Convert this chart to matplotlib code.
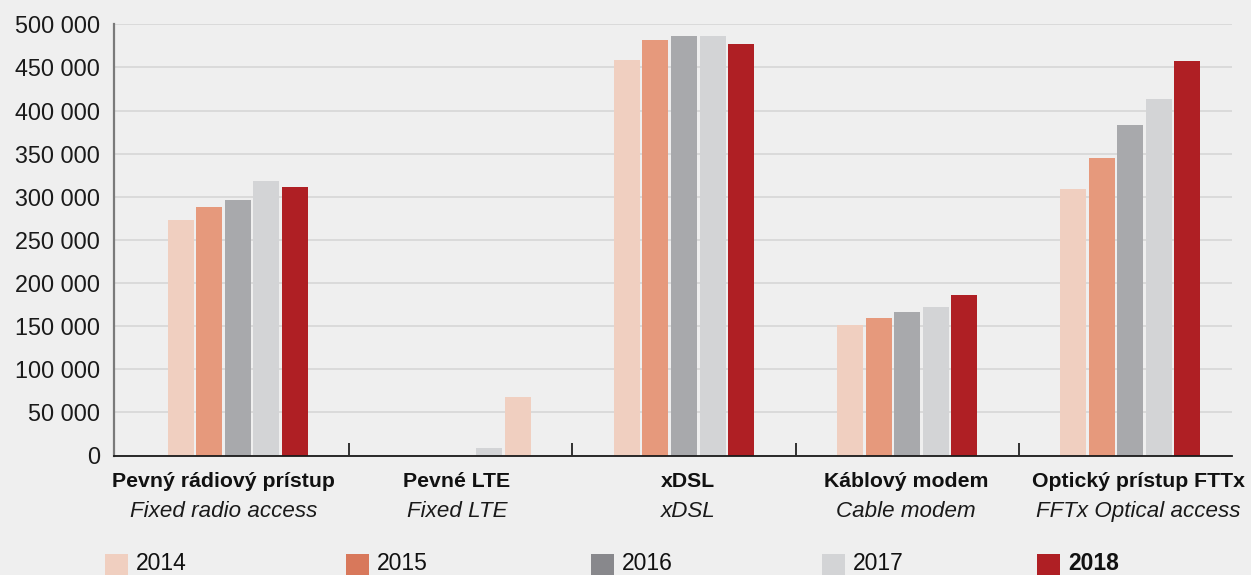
import matplotlib
matplotlib.use("Agg")
import matplotlib.pyplot as plt
import matplotlib.transforms as mtransforms
from matplotlib.patches import Rectangle
from matplotlib.ticker import FuncFormatter, FixedLocator
import numpy as np

# ---------------- data ----------------
categories_sk = ["Pevný rádiový prístup", "Pevné LTE", "xDSL", "Káblový modem", "Optický prístup FTTx"]
categories_en = ["Fixed radio access", "Fixed LTE", "xDSL", "Cable modem", "FFTx Optical access"]
years = ["2014", "2015", "2016", "2017", "2018"]
v2014 = [273000, 0, 459000, 151000, 309000]
v2015 = [288000, 0, 482000, 160000, 345000]
v2016 = [296000, 0, 487000, 166000, 383000]
v2017 = [318000, 9000, 487000, 172000, 413000]
v2018 = [311000, 68000, 477000, 186000, 458000]
yticks = [0, 50000, 100000, 150000, 200000, 250000, 300000, 350000, 400000, 450000, 500000]

series = [v2014, v2015, v2016, v2017, v2018]

# ---------------- style ----------------
BG = "#EFEFEF"
bar_colors = ["#F0CFC0", "#E6997C", "#A8A9AC", "#D3D4D6", "#AF1F24"]
legend_colors = ["#F0CFC0", "#D8785B", "#88888C", "#D3D4D6", "#AF1F24"]
W, H, DPI = 1251, 575, 100

fig = plt.figure(figsize=(W / DPI, H / DPI), dpi=DPI, facecolor=BG)
ax = fig.add_axes([114 / W, 1 - 455.5 / H, (1232 - 114) / W, (455.5 - 24.3) / H])
ax.set_facecolor(BG)

x = np.arange(len(categories_sk))
pitch = 0.128
width = 0.1165
for k, vals in enumerate(series):
    bars = ax.bar(x + (k - 2) * pitch, vals, width=width, color=bar_colors[k], zorder=3)
    if k == 4:
        # in the original, the Fixed LTE 2018 bar is drawn in the 2014 tint
        bars[1].set_facecolor(bar_colors[0])

ax.set_xlim(-0.555, 4.456)
ax.set_ylim(0, 500000)

ax.set_yticks(yticks)
ax.yaxis.set_major_formatter(FuncFormatter(lambda v, p: "{:,}".format(int(v)).replace(",", " ")))
ax.tick_params(axis="y", length=0, pad=10, labelsize=16.8, labelcolor="#1a1a1a")
for lab in ax.get_yticklabels():
    lab.set_family(["Liberation Sans", "DejaVu Sans"])

ax.yaxis.grid(True, color="#D8D8D8", lw=1.3, zorder=0)
ax.set_axisbelow(True)

for s in ["top", "right"]:
    ax.spines[s].set_visible(False)
ax.spines["left"].set_color("#7A7A7A")
ax.spines["left"].set_linewidth(1.6)
ax.spines["bottom"].set_color("#1a1a1a")
ax.spines["bottom"].set_linewidth(1.3)
ax.spines["bottom"].set_zorder(4)

ax.set_xticks([])
ax.xaxis.set_minor_locator(FixedLocator([0.5, 1.5, 2.5, 3.5]))
ax.tick_params(axis="x", which="minor", direction="in", length=9.5, width=1.2, color="#111111")

# category labels (two lines)
label_nudge_px = [-14, -4, 4, -1, 8]
blend = mtransforms.blended_transform_factory(ax.transData, fig.transFigure)
for i, (sk, en) in enumerate(zip(categories_sk, categories_en)):
    tr = blend + mtransforms.ScaledTranslation(label_nudge_px[i] / DPI, 0, fig.dpi_scale_trans)
    fig.text(i, 1 - 487 / H, sk, transform=tr, ha="center", va="baseline",
             fontsize=15.3, fontweight="bold", color="#111111",
             family=["Liberation Sans Narrow", "Liberation Sans", "DejaVu Sans"])
    fig.text(i, 1 - 517 / H, en, transform=tr, ha="center", va="baseline",
             fontsize=16.1, fontstyle="italic", color="#1a1a1a",
             family=["Liberation Sans", "DejaVu Sans"])

# legend (manual, single row at bottom)
leg_x_px = [105, 346, 591, 822, 1037]
sq = 23
for k, yr in enumerate(years):
    fig.patches.append(Rectangle((leg_x_px[k] / W, 1 - (554 + sq) / H), sq / W, sq / H,
                                 transform=fig.transFigure, facecolor=legend_colors[k],
                                 edgecolor="none"))
    fig.text((leg_x_px[k] + 31) / W, 1 - 570.5 / H, yr, ha="left", va="baseline",
             fontsize=16.5, fontweight="bold" if k == 4 else "normal", color="#111111",
             family=["Liberation Sans", "DejaVu Sans"])

fig.savefig("out.png", dpi=DPI, facecolor=BG)
